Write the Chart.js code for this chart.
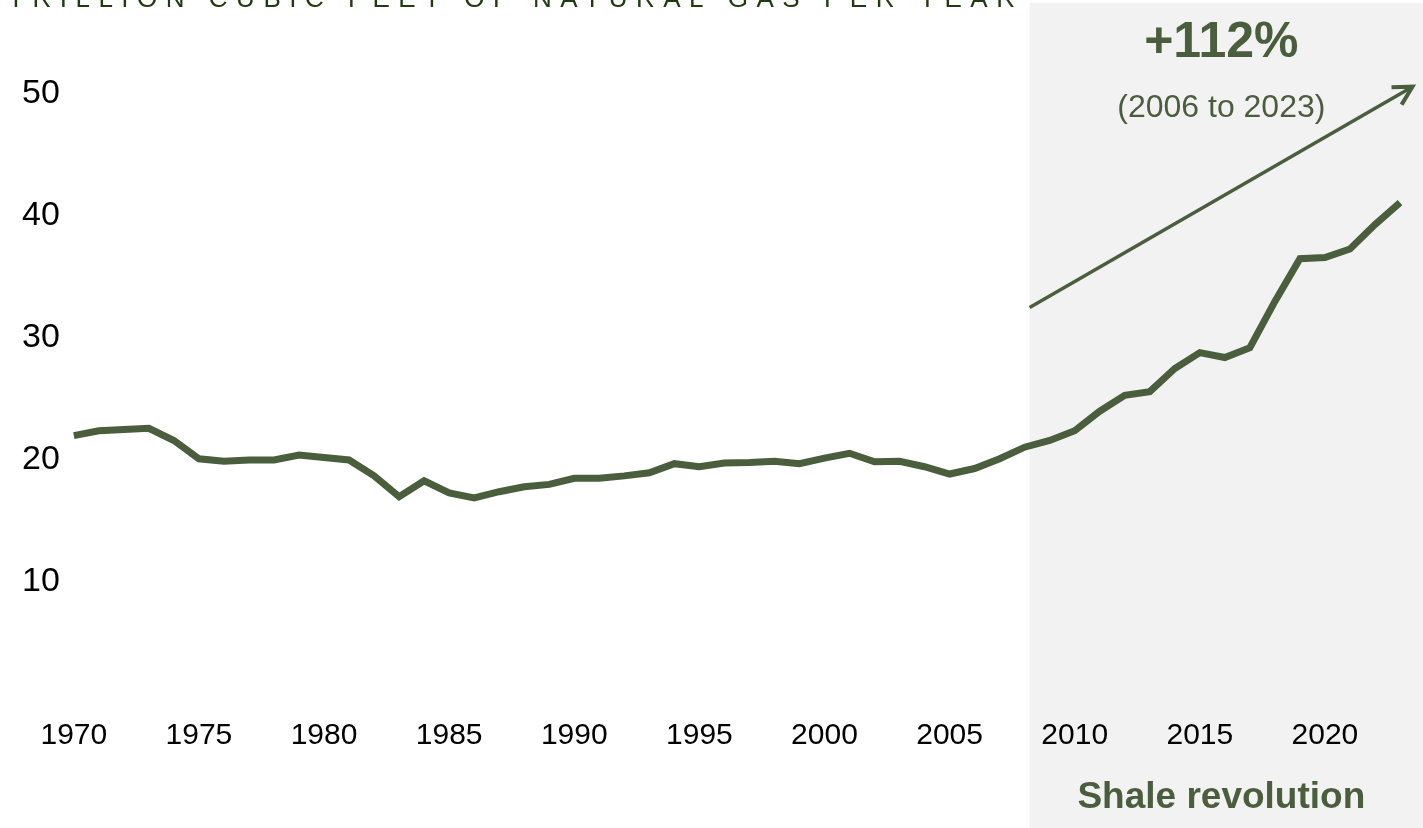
<!DOCTYPE html>
<html>
<head>
<meta charset="utf-8">
<script src="https://cdn.jsdelivr.net/npm/chart.js@4.4.1/dist/chart.umd.min.js"></script>
<style>
  html, body {
    margin: 0;
    padding: 0;
    background: #ffffff;
  }
  #grafico {
    width: 1423px;
    height: 828px;
  }
</style>
</head>
<body>
<div id="grafico"><canvas id="myChartLine"></canvas></div>
<script>
const anos = [
  1970, 1971, 1972, 1973, 1974, 1975, 1976, 1977, 1978, 1979,
  1980, 1981, 1982, 1983, 1984, 1985, 1986, 1987, 1988, 1989,
  1990, 1991, 1992, 1993, 1994, 1995, 1996, 1997, 1998, 1999,
  2000, 2001, 2002, 2003, 2004, 2005, 2006, 2007, 2008, 2009,
  2010, 2011, 2012, 2013, 2014, 2015, 2016, 2017, 2018, 2019,
  2020, 2021, 2022, 2023,
];
const producao = [
  22.0, 22.4, 22.5, 22.6, 21.6, 20.1, 19.9, 20.0, 20.0, 20.4,
  20.2, 20.0, 18.7, 17.0, 18.3, 17.3, 16.9, 17.4, 17.8, 18.0,
  18.5, 18.5, 18.7, 18.95, 19.7, 19.45, 19.75, 19.8, 19.9, 19.7,
  20.15, 20.55, 19.85, 19.9, 19.45, 18.85, 19.3, 20.1, 21.05, 21.6,
  22.4, 24.0, 25.3, 25.6, 27.5, 28.8, 28.4, 29.2, 33.0, 36.5,
  36.6, 37.3, 39.3, 41.1,
];
const ticksX = [1970, 1975, 1980, 1985, 1990, 1995, 2000, 2005, 2010, 2015, 2020];
const ticksY = [10, 20, 30, 40, 50];

const titulo = "TRILLION CUBIC FEET OF NATURAL GAS PER YEAR";
const inicioShale = 2008.2;
const textoShale = "Shale revolution";
const textoPercentual = "+112%";
const textoPeriodo = "(2006 to 2023)";
// seta: de (ano, valor) ate (ano, valor)
const setaInicio = [2008.2, 32.5];
const setaFim = [2023.5, 50.6];

const verde = "#4a5e3d";
const fonte = "'Liberation Sans', Arial, sans-serif";

const pontos = [];
for (var i = 0; i < anos.length; i++) {
  pontos.push({ x: anos[i], y: producao[i] });
}

const fundoShale = {
  id: "fundoShale",
  beforeDraw(chart) {
    const ctx = chart.ctx;
    const x0 = chart.scales.x.getPixelForValue(inicioShale);
    ctx.save();
    ctx.fillStyle = "#f2f2f2";
    ctx.fillRect(x0, 3, chart.width - x0, chart.height - 3);
    ctx.restore();
  },
};

const anotacoes = {
  id: "anotacoes",
  afterDraw(chart) {
    const ctx = chart.ctx;
    const sx = chart.scales.x;
    const sy = chart.scales.y;
    const x0 = sx.getPixelForValue(inicioShale);
    const meio = (x0 + chart.width) / 2 - 5;

    ctx.save();

    // titulo cortado no topo
    ctx.fillStyle = "#203b12";
    ctx.font = "26px " + fonte;
    ctx.textBaseline = "alphabetic";
    ctx.textAlign = "left";
    const larguraBase = ctx.measureText(titulo).width;
    const espaco = (1007 - larguraBase) / (titulo.length - 1);
    ctx.letterSpacing = espaco + "px";
    ctx.fillText(titulo, 8, 7);
    ctx.letterSpacing = "0px";

    ctx.fillStyle = verde;
    ctx.textAlign = "center";
    ctx.font = "bold 50px " + fonte;
    ctx.fillText(textoPercentual, meio, 57);
    ctx.font = "32px " + fonte;
    ctx.fillText(textoPeriodo, meio, 117);
    ctx.font = "bold 37px " + fonte;
    ctx.fillText(textoShale, meio, 808);

    // seta
    const ax = sx.getPixelForValue(setaInicio[0]);
    const ay = sy.getPixelForValue(setaInicio[1]);
    const bx = sx.getPixelForValue(setaFim[0]);
    const by = sy.getPixelForValue(setaFim[1]);
    const ang = Math.atan2(by - ay, bx - ax);
    ctx.strokeStyle = verde;
    ctx.lineWidth = 3.5;
    ctx.beginPath();
    ctx.moveTo(ax, ay);
    ctx.lineTo(bx, by);
    ctx.stroke();
    ctx.lineWidth = 4;
    ctx.beginPath();
    ctx.moveTo(bx - 21 * Math.cos(ang - 0.5), by - 21 * Math.sin(ang - 0.5));
    ctx.lineTo(bx, by);
    ctx.lineTo(bx - 21 * Math.cos(ang + 0.5), by - 21 * Math.sin(ang + 0.5));
    ctx.stroke();

    ctx.restore();
  },
};

const dataLinha = {
  datasets: [
    {
      label: "Gas",
      data: pontos,
      borderColor: verde,
      borderWidth: 7,
      pointRadius: 0,
      tension: 0,
      fill: false,
      clip: false,
    },
  ],
};

const configLinha = {
  type: "line",
  data: dataLinha,
  options: {
    responsive: true,
    maintainAspectRatio: false,
    animation: false,
    layout: {
      padding: { top: 94, right: 23, bottom: 60, left: 8 },
    },
    scales: {
      x: {
        type: "linear",
        min: 1970,
        max: 2023,
        grid: { display: false, drawTicks: false },
        border: { display: false },
        afterBuildTicks: function (scale) {
          scale.ticks = ticksX.map((v) => ({ value: v }));
        },
        ticks: {
          autoSkip: false,
          color: "#000000",
          padding: 14,
          maxRotation: 0,
          font: { size: 30, family: fonte },
          callback: (v) => String(v),
        },
      },
      y: {
        min: 0,
        max: 50,
        grid: { display: false, drawTicks: false },
        border: { display: false },
        afterBuildTicks: function (scale) {
          scale.ticks = ticksY.map((v) => ({ value: v }));
        },
        ticks: {
          color: "#000000",
          padding: 14,
          font: { size: 34, family: fonte },
        },
      },
    },
    plugins: {
      legend: { display: false },
      tooltip: { enabled: false },
    },
  },
  plugins: [fundoShale, anotacoes],
};

const myChartLine = new Chart(
  document.getElementById("myChartLine"),
  configLinha
);
</script>
</body>
</html>
